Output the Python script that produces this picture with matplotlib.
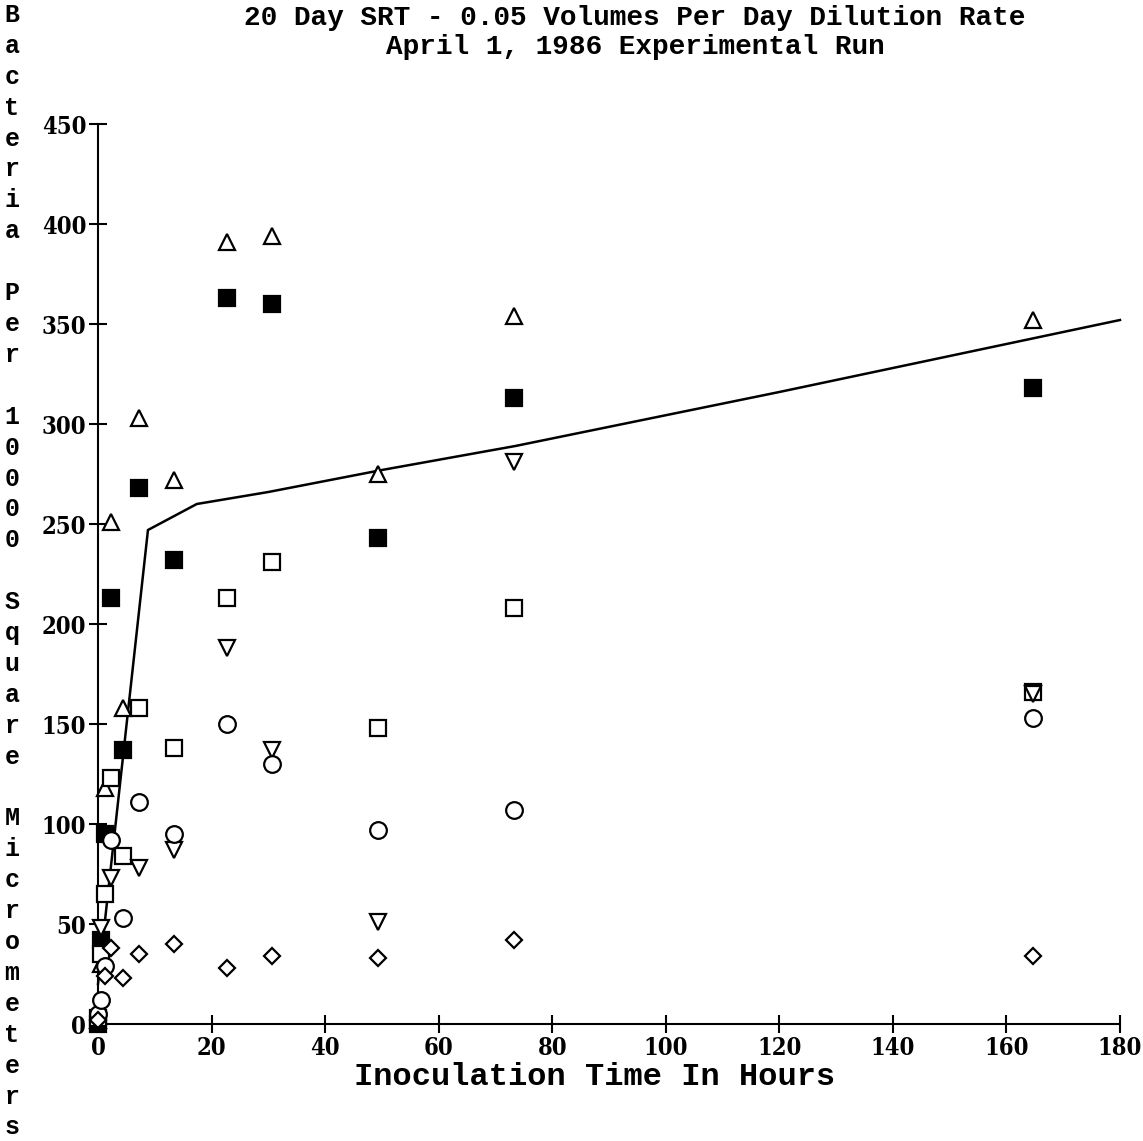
import numpy as np
import matplotlib
matplotlib.use("Agg")
import matplotlib.pyplot as plt

nan = np.nan
times = [0, 0.5, 1.2, 2.3, 4.4, 7.3, 13.3, 22.8, 30.6, 49.3, 73.3, 164.6]
tri_up = [2, 30, 118, 251, 158, 303, 272, 391, 394, 275, 354, 352]
filled_sq = [0, 42, 95, 213, 137, 268, 232, 363, 360, 243, 313, 318]
open_sq = [3, 35, 65, 123, 84, 158, 138, 213, 231, 148, 208, 166]
inv_tri = [nan, 48, nan, 73, nan, 78, 87, 188, 137, 51, 281, 165]
circles = [5, 12, 29, 92, 53, 111, 95, 150, 130, 97, 107, 153]
diamonds = [2, nan, 24, 38, 23, 35, 40, 28, 34, 33, 42, 34]

fit_x = [0, 8.8, 17.4, 30, 50, 73.5, 120, 180]
fit_y = [20, 247, 260, 266, 277, 289, 316, 352]

x_ticks = [0, 20, 40, 60, 80, 100, 120, 140, 160, 180]
y_ticks = [0, 50, 100, 150, 200, 250, 300, 350, 400, 450]

title_lines = ["20 Day SRT - 0.05 Volumes Per Day Dilution Rate",
               "April 1, 1986 Experimental Run"]
x_label = "Inoculation Time In Hours"
y_label = "Bacteria Per 10000 Square Micrometers"

W, H = 1143, 1141
fig = plt.figure(figsize=(W / 100, H / 100), dpi=100)
ax = fig.add_axes([98 / W, 1 - 1024 / H, (1120 - 98) / W, (1024 - 124) / H])

mono = "Liberation Mono"
tickfont = dict(family="DejaVu Serif", weight="bold", size=17, stretch="condensed")

ax.plot(fit_x, fit_y, color="black", lw=1.8, zorder=2)

mk = dict(ls="none", color="black", mew=1.6, zorder=3)
ax.plot(times, tri_up, marker="^", ms=12, mfc="white", **mk)
ax.plot(times, filled_sq, marker="s", ms=12, mfc="black", **mk)
ax.plot(times, open_sq, marker="s", ms=12, mfc="white", **mk)
ax.plot(times, inv_tri, marker="v", ms=12, mfc="white", **mk)
ax.plot(times, circles, marker="o", ms=12, mfc="white", **mk)
ax.plot(times, diamonds, marker="D", ms=8.5, mfc="white", **mk)

ax.set_xlim(0, 180)
ax.set_ylim(0, 450)
for s in ["top", "right"]:
    ax.spines[s].set_visible(False)
for s in ["left", "bottom"]:
    ax.spines[s].set_linewidth(1.5)
ax.set_xticks(x_ticks)
ax.set_yticks(y_ticks)
ax.tick_params(direction="inout", length=13, width=1.5, pad=2)
for lab in ax.get_xticklabels() + ax.get_yticklabels():
    lab.set_fontproperties(matplotlib.font_manager.FontProperties(**tickfont))
for ln in ax.lines:
    ln.set_clip_on(False)

fig.text(635 / W, 1 - 18 / H, title_lines[0], family=mono, weight="bold",
         size=20, ha="center", va="center")
fig.text(635 / W, 1 - 47 / H, title_lines[1], family=mono, weight="bold",
         size=20, ha="center", va="center")

fig.text(595 / W, 1 - 1077 / H, x_label, family=mono, weight="bold",
         size=23, ha="center", va="center")

for i, ch in enumerate(y_label):
    if ch == " ":
        continue
    fig.text(12 / W, 1 - (15 + i * 30.9) / H, ch, family=mono, weight="bold",
             size=18, ha="center", va="center")

fig.savefig("out.png", dpi=100)
